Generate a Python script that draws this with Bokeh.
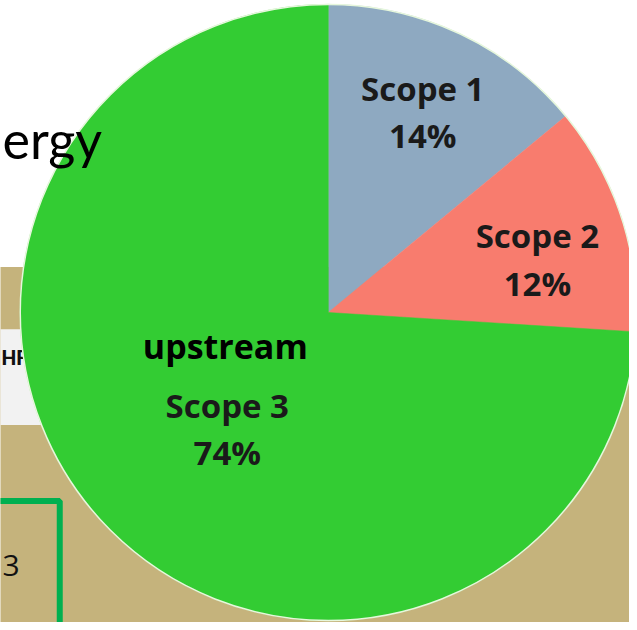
import math
from bokeh.plotting import figure
from bokeh.models import Range1d, ColumnDataSource
from bokeh.embed import file_html
from bokeh.resources import INLINE
from bokeh.core.properties import value

# ---- data ----
categories = ["Scope 1", "Scope 2", "Scope 3"]
shares = [14, 12, 74]
share_labels = ["14%", "12%", "74%"]
colors = ["#8EA9C1", "#F87C6E", "#33CC33"]
scope3_note = "upstream"
title_fragment = "ergy"
side_text = "HF"
box_text = "3"

# ---- layout (reference pixel space, y measured downward) ----
W, H = 629, 622
CX, CY, R = 332, 316, 312
label_r = [0.72, 0.70, 0.45]
label_nudge = [(0, 0), (4, 14), (0, 22)]

def Y(y):
    return -y

p = figure(width=W, height=H, output_backend="svg", toolbar_location=None,
           x_range=Range1d(0, 637), y_range=Range1d(-630, 0),
           min_border=0, outline_line_color=None, background_fill_color="white")
p.axis.visible = False
p.grid.visible = False

# background scene
beige = "#C5B37C"
p.quad(left=[-20], right=[660], top=[Y(270)], bottom=[Y(700)], fill_color=beige, line_color=None)
p.quad(left=[-20], right=[200], top=[Y(333)], bottom=[Y(430)], fill_color="#F2F2F2", line_color=None)
p.quad(left=[-100], right=[60], top=[Y(507)], bottom=[Y(800)], fill_alpha=0,
       line_color="#00B050", line_width=6)
p.text(x=[1], y=[Y(362)], text=[side_text], text_font=value("Roboto"),
       text_font_style="bold", text_font_size="21px", text_align="left", text_baseline="middle",
       text_color="#111111")
p.text(x=[2], y=[Y(572)], text=[box_text], text_font=value("Open Sans"),
       text_font_size="30px", text_align="left", text_baseline="middle", text_color="#111111")

# pie angles (clockwise from 12 o'clock)
total = float(sum(shares))
starts, ends, mids = [], [], []
acc = 0.0
for v in shares:
    a0 = math.pi / 2 - 2 * math.pi * (acc + v) / total
    a1 = math.pi / 2 - 2 * math.pi * acc / total
    starts.append(a0)
    ends.append(a1)
    mids.append((a0 + a1) / 2)
    acc += v

src = ColumnDataSource(dict(start=starts, end=ends, color=colors, cat=categories))
p.wedge(x=CX, y=Y(CY), radius=R, start_angle="start", end_angle="end",
        fill_color="color", line_color="color", line_width=0.5, source=src)
p.circle(x=[CX], y=[Y(CY)], radius=R, fill_color=None, line_color="#E6F7DC", line_width=1.5)

# title fragment drawn over the pie
p.text(x=[2], y=[Y(140)], text=[title_fragment], text_font=value("Lato"),
       text_font_size="52px", text_align="left", text_baseline="alphabetic", text_color="black")

# labels
lx, ly1, ly2 = [], [], []
centers = []
for i, m in enumerate(mids):
    x = CX + label_r[i] * R * math.cos(m) + label_nudge[i][0]
    y = CY - label_r[i] * R * math.sin(m) + label_nudge[i][1]
    lx.append(x)
    centers.append(y)
    ly1.append(Y(y - 24))
    ly2.append(Y(y + 24))

p.text(x=lx, y=ly1, text=categories, text_font=value("Open Sans"), text_font_style="bold",
       text_font_size="33px", text_align="center", text_baseline="middle", text_color="#1A1A1A")
p.text(x=lx, y=ly2, text=share_labels, text_font=value("Open Sans"), text_font_style="bold",
       text_font_size="33px", text_align="center", text_baseline="middle", text_color="#1A1A1A")
p.text(x=[lx[2] - 2], y=[Y(centers[2] - 84)], text=[scope3_note],
       text_font=value("Open Sans"), text_font_style="bold", text_font_size="34px",
       text_align="center", text_baseline="middle", text_color="black")

open("out.html", "w").write(file_html(p, INLINE))
